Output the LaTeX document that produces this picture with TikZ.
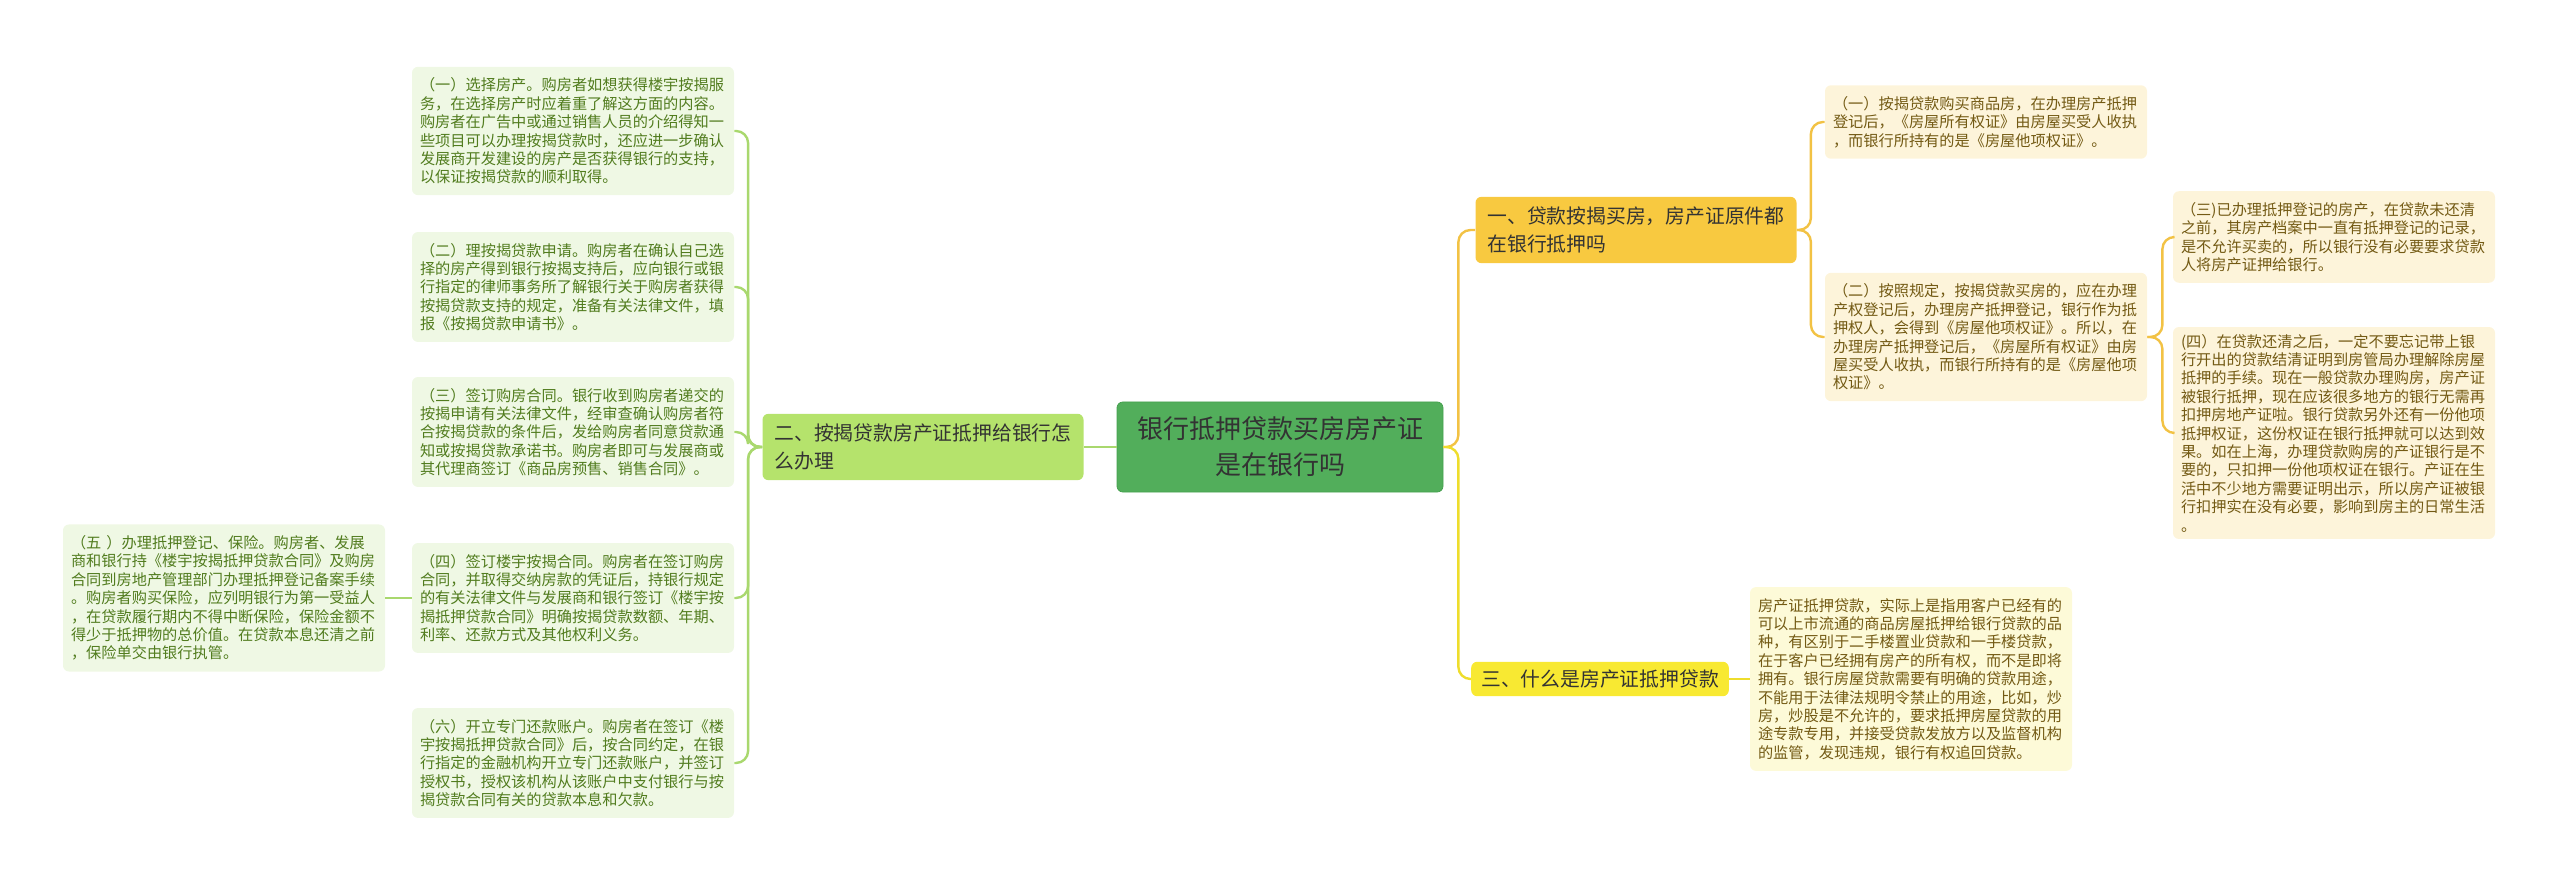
\documentclass[tikz,border=0pt]{standalone}
\usepackage{fontspec}
\setmainfont{Noto Sans CJK SC}
\definecolor{rootfill}{HTML}{52AE5B}
\definecolor{rootedge}{HTML}{45A04E}
\definecolor{limefill}{HTML}{B5E36C}
\definecolor{leafgreen}{HTML}{EFF8E4}
\definecolor{leafgreentext}{HTML}{517C1E}
\definecolor{greenline}{HTML}{A9D86E}
\definecolor{amberfill}{HTML}{F8C940}
\definecolor{amberline}{HTML}{F2C244}
\definecolor{yellowfill}{HTML}{F8E932}
\definecolor{yellowline}{HTML}{EEDD2C}
\definecolor{creamfill}{HTML}{FDF4DA}
\definecolor{creamyellow}{HTML}{FDFAD8}
\definecolor{browntext}{HTML}{735A14}
\begin{document}
\begin{tikzpicture}[x=0.5pt,y=-0.5pt,
  rootbox/.style={draw=rootedge,fill=rootfill,rounded corners=3pt,align=center,
    font=\fontsize{13}{18}\selectfont,text=black!80,inner xsep=10pt,inner ysep=7.5pt},
  mainbox/.style={rounded corners=3pt,align=left,font=\fontsize{9.9}{14}\selectfont,
    text=black!80,inner xsep=6pt,inner ysep=5pt},
  leafbox/.style={rounded corners=3pt,align=left,text width=153pt,
    font=\fontsize{7.6}{9.2}\selectfont,inner xsep=4pt,inner ysep=5.5pt},
  greenleaf/.style={leafbox,fill=leafgreen,text=leafgreentext},
  creamleaf/.style={leafbox,fill=creamfill,text=browntext},
  link/.style={line width=1.2pt,rounded corners=6pt}]
\useasboundingbox (0,0) rectangle (2560,886);

% centre
\node[rootbox] (root) at (1280,447) {银行抵押贷款买房房产证\\是在银行吗};

% left branch
\node[mainbox,fill=limefill] (two) at (923,447) {二、按揭贷款房产证抵押给银行怎\\么办理};
\node[greenleaf] (l1) at (573,131) {（一）选择房产。购房者如想获得楼宇按揭服\\务，在选择房产时应着重了解这方面的内容。\\购房者在广告中或通过销售人员的介绍得知一\\些项目可以办理按揭贷款时，还应进一步确认\\发展商开发建设的房产是否获得银行的支持，\\以保证按揭贷款的顺利取得。};
\node[greenleaf] (l2) at (573,287) {（二）理按揭贷款申请。购房者在确认自己选\\择的房产得到银行按揭支持后，应向银行或银\\行指定的律师事务所了解银行关于购房者获得\\按揭贷款支持的规定，准备有关法律文件，填\\报《按揭贷款申请书》。};
\node[greenleaf] (l3) at (573,432) {（三）签订购房合同。银行收到购房者递交的\\按揭申请有关法律文件，经审查确认购房者符\\合按揭贷款的条件后，发给购房者同意贷款通\\知或按揭贷款承诺书。购房者即可与发展商或\\其代理商签订《商品房预售、销售合同》。};
\node[greenleaf] (l4) at (573,598) {（四）签订楼宇按揭合同。购房者在签订购房\\合同，并取得交纳房款的凭证后，持银行规定\\的有关法律文件与发展商和银行签订《楼宇按\\揭抵押贷款合同》明确按揭贷款数额、年期、\\利率、还款方式及其他权利义务。};
\node[greenleaf] (l5) at (224,598) {（五~）办理抵押登记、保险。购房者、发展\\商和银行持《楼宇按揭抵押贷款合同》及购房\\合同到房地产管理部门办理抵押登记备案手续\\。购房者购买保险，应列明银行为第一受益人\\，在贷款履行期内不得中断保险，保险金额不\\得少于抵押物的总价值。在贷款本息还清之前\\，保险单交由银行执管。};
\node[greenleaf] (l6) at (573,763) {（六）开立专门还款账户。购房者在签订《楼\\宇按揭抵押贷款合同》后，按合同约定，在银\\行指定的金融机构开立专门还款账户，并签订\\授权书，授权该机构从该账户中支付银行与按\\揭贷款合同有关的贷款本息和欠款。};

% right branches
\node[mainbox,fill=amberfill] (one) at (1636,230) {一、贷款按揭买房，房产证原件都\\在银行抵押吗};
\node[mainbox,fill=yellowfill,inner ysep=4pt,inner xsep=5pt] (three) at (1600,679) {三、什么是房产证抵押贷款};
\node[creamleaf] (r1) at (1986,122) {（一）按揭贷款购买商品房，在办理房产抵押\\登记后，《房屋所有权证》由房屋买受人收执\\，而银行所持有的是《房屋他项权证》。};
\node[creamleaf] (r2) at (1986,337) {（二）按照规定，按揭贷款买房的，应在办理\\产权登记后，办理房产抵押登记，银行作为抵\\押权人，会得到《房屋他项权证》。所以，在\\办理房产抵押登记后，《房屋所有权证》由房\\屋买受人收执，而银行所持有的是《房屋他项\\权证》。};
\node[creamleaf] (r3) at (2334,237) {（三)已办理抵押登记的房产，在贷款未还清\\之前，其房产档案中一直有抵押登记的记录，\\是不允许买卖的，所以银行没有必要要求贷款\\人将房产证押给银行。};
\node[creamleaf,inner ysep=3.5pt] (r4) at (2334,433) {(四）在贷款还清之后，一定不要忘记带上银\\行开出的贷款结清证明到房管局办理解除房屋\\抵押的手续。现在一般贷款办理购房，房产证\\被银行抵押，现在应该很多地方的银行无需再\\扣押房地产证啦。银行贷款另外还有一份他项\\抵押权证，这份权证在银行抵押就可以达到效\\果。如在上海，办理贷款购房的产证银行是不\\要的，只扣押一份他项权证在银行。产证在生\\活中不少地方需要证明出示，所以房产证被银\\行扣押实在没有必要，影响到房主的日常生活\\。};
\node[creamleaf,fill=creamyellow] (r5) at (1911,679) {房产证抵押贷款，实际上是指用客户已经有的\\可以上市流通的商品房屋抵押给银行贷款的品\\种，有区别于二手楼置业贷款和一手楼贷款，\\在于客户已经拥有房产的所有权，而不是即将\\拥有。银行房屋贷款需要有明确的贷款用途，\\不能用于法律法规明令禁止的用途，比如，炒\\房，炒股是不允许的，要求抵押房屋贷款的用\\途专款专用，并接受贷款发放方以及监督机构\\的监管，发现违规，银行有权追回贷款。};

% connectors
\draw[link,greenline] (root.west) -- (two.east);
\foreach \leaf in {l1,l2,l3,l4,l6}
  \draw[link,greenline] (two.west) -- ++(-14,0) |- (\leaf.east);
\draw[link,greenline] (l4.west) -- (l5.east);
\draw[link,amberline] (root.east) -- ++(15,0) |- (one.west);
\draw[link,yellowline] (root.east) -- ++(15,0) |- (three.west);
\foreach \leaf in {r1,r2}
  \draw[link,amberline] (one.east) -- ++(14,0) |- (\leaf.west);
\foreach \leaf in {r3,r4}
  \draw[link,amberline] (r2.east) -- ++(15,0) |- (\leaf.west);
\draw[link,yellowline] (three.east) -- (r5.west);
\end{tikzpicture}
\end{document}
